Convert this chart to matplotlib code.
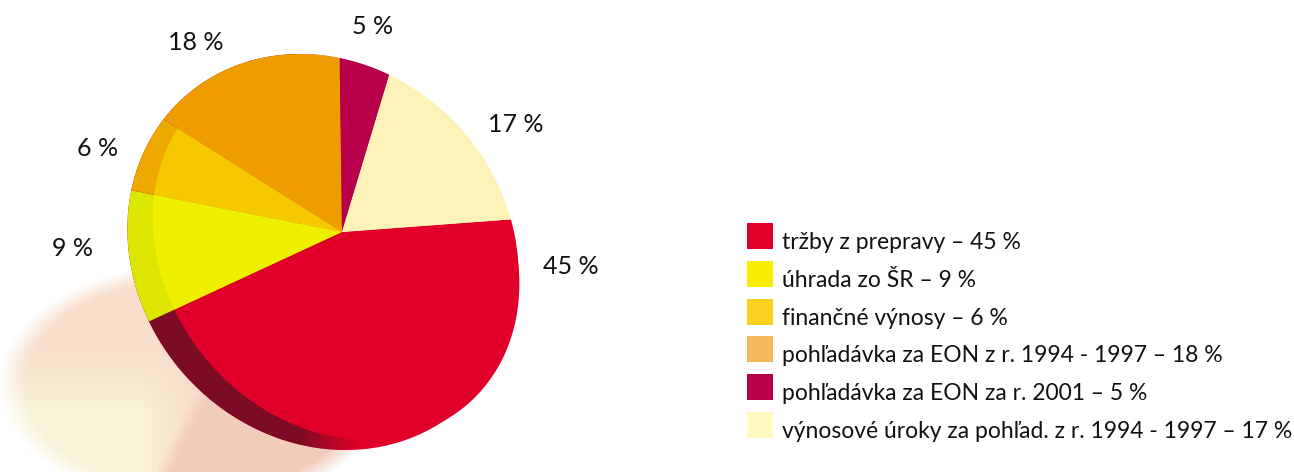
#!/usr/bin/env python

import numpy as np
import matplotlib
matplotlib.use( "Agg" )
import matplotlib.pyplot as plt
from matplotlib.patches import Ellipse, Rectangle
from matplotlib.transforms import Affine2D

W, H = 1294, 472

legend_names = [ "tržby z prepravy", "úhrada zo ŠR", "finančné výnosy",
                "pohľadávka za EON z r. 1994 - 1997",
                "pohľadávka za EON za r. 2001",
                "výnosové úroky za pohľad. z r. 1994 - 1997" ]
shares = [ 45, 9, 6, 18, 5, 17 ]

face_colors = [ "#e0002a", "#eef000", "#f6c800", "#ef9c00", "#b8004a", "#fdf3b8" ]
rim_colors = [ "#e0002a", "#dde600", "#eea800", "#ef9c00", "#b8004a", "#fdf3b8" ]
swatch_colors = [ "#e2002a", "#f9ec00", "#f9d11e", "#f5b85a", "#b80046", "#fff9c0" ]

# where the percent labels sit around the pie, in picture pixels
label_xy = [ ( 571, 266 ), ( 73, 249 ), ( 98, 148 ), ( 196, 43 ), ( 373, 27 ), ( 516, 124 ) ]

apex = ( 342, H - 232 )

fig = plt.figure( figsize = ( W / 100, H / 100 ), dpi = 100 )
ax = fig.add_axes( [ 0, 0, 1, 1 ] )

xx, yy = np.meshgrid( np.arange( W ) + 0.5, H - np.arange( H ) - 0.5 )
py = H - yy


def rgb( c ):
        return np.array( matplotlib.colors.to_rgb( c ) )


# blurred shadow on the ground, lower left
d = np.sqrt( ( ( xx - 195 ) / 185.0 ) ** 2 + ( ( yy - ( H - 385 ) ) / 115.0 ) ** 2 )
shadow_a = np.clip( ( 1.06 - d ) / 0.14, 0, 1 )
w_cream = np.clip( ( py - 350 ) / 60.0, 0, 1 ) * np.clip( ( 190 - xx ) / 50.0, 0, 1 )
w_salmon = np.clip( ( xx - ( 190 - ( py - 400 ) * 0.5 ) ) / 18.0, 0, 1 )
shadow = np.ones( ( H, W, 4 ) )
for i in range( 3 ):
        c = rgb( "#f8dfcc" )[ i ] * ( 1 - w_cream ) + rgb( "#f8f3d8" )[ i ] * w_cream
        shadow[ :, :, i ] = c * ( 1 - w_salmon ) + rgb( "#f2ccba" )[ i ] * w_salmon
shadow[ :, :, 3 ] = shadow_a
ax.imshow( shadow, extent = ( 0, W, 0, H ), origin = "upper", zorder = 1, interpolation = "bilinear" )

outline = Ellipse( ( 323, H - 252 ), 416, 370, angle = -48, transform = ax.transData )
top_face = Ellipse( ( 336, H - 251 ), 404, 338, angle = -50, transform = ax.transData )

# the pie is seen at a slant, so the slices get stretched along that axis
tilt = ( Affine2D().translate( -apex[ 0 ], -apex[ 1 ] ).rotate_deg( -120 )
                .scale( 1.17, 1 ).rotate_deg( 120 ).translate( apex[ 0 ], apex[ 1 ] ) )

rim, _ = ax.pie( shares, colors = rim_colors, center = apex, radius = 700,
                startangle = 7.6, counterclock = False, frame = True )
for i, p in enumerate( rim ):
        p.set_transform( tilt + ax.transData )
        p.set_clip_on( True )       # pie turns clipping off
        p.set_clip_path( outline )
        p.set_linewidth( 0 )
        p.set_zorder( 2 if i == 0 else 4 )

# dark side of the big slice, fades out towards the bottom
dark = np.zeros( ( H, W, 4 ) )
dark[ :, :, : 3 ] = rgb( "#7c0c24" )
dark[ :, :, 3 ] = np.clip( ( 360 - xx ) / 60.0, 0, 1 )
im = ax.imshow( dark, extent = ( 0, W, 0, H ), origin = "upper", zorder = 3 )
im.set_clip_path( outline )

faces, _ = ax.pie( shares, colors = face_colors, center = apex, radius = 700,
                startangle = 7.6, counterclock = False, frame = True )
for p in faces:
        p.set_transform( tilt + ax.transData )
        p.set_clip_on( True )
        p.set_clip_path( top_face )
        p.set_linewidth( 0 )
        p.set_zorder( 5 )

font = "Lato"

for v, ( x, y ) in zip( shares, label_xy ):
        ax.text( x, H - y, "%d %%" % v, ha = "center", va = "center", fontsize = 18,
                        family = font, color = "#111111", zorder = 6 )

for i, ( name, v ) in enumerate( zip( legend_names, shares ) ):
        bottom = 249 + i * 37.8
        ax.add_patch( Rectangle( ( 747, H - bottom ), 26, 26, fc = swatch_colors[ i ], lw = 0, zorder = 6 ) )
        ax.text( 782, H - bottom, "%s – %d %%" % ( name, v ), ha = "left", va = "baseline",
                        fontsize = 16.5, family = font, color = "#111111", zorder = 6 )

ax.set_xlim( 0, W )
ax.set_ylim( 0, H )
ax.axis( "off" )

fig.savefig( "out.png", dpi = 100, facecolor = "white" )
